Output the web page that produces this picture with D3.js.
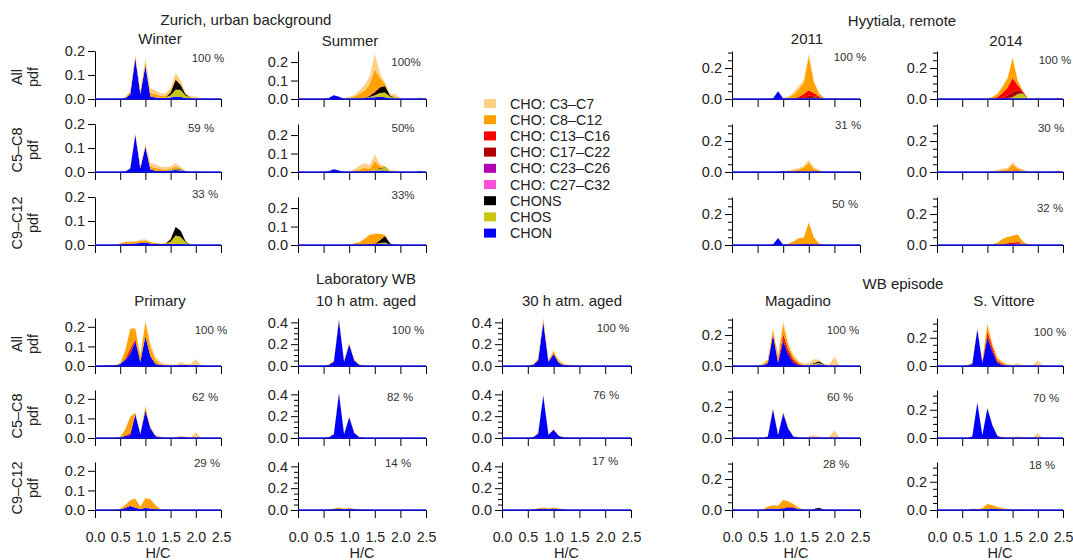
<!DOCTYPE html>
<html><head><meta charset="utf-8">
<script src="https://cdn.jsdelivr.net/npm/d3@7"></script>
<style>
body{margin:0;background:#fff}
svg{display:block}
text{font-family:"Liberation Sans",Arial,Helvetica,sans-serif;fill:#222}
</style>
</head><body>
<svg id="c" width="1073" height="560"></svg>
<script>
// ---------- data ----------
const hcBins = [0.0,0.1,0.2,0.3,0.4,0.5,0.6,0.7,0.8,0.9,1.0,1.1,1.2,1.3,1.4,1.5,1.6,1.7,1.8,1.9,2.0,2.1,2.2,2.3,2.4,2.5];
const seriesKeys = ["chon","chos","chons","c27","c23","c17","c13","c8","c3"]; // stack order, bottom -> top
const legendKeys = ["c3","c8","c13","c17","c23","c27","chons","chos","chon"];
const legendLabels = ["CHO: C3–C7","CHO: C8–C12","CHO: C13–C16","CHO: C17–C22","CHO: C23–C26","CHO: C27–C32","CHONS","CHOS","CHON"];
const xTicks = [0,0.5,1.0,1.5,2.0,2.5];
const rowNames = ["All","C5–C8","C9–C12"];

// each series: [first H/C bin, values at consecutive 0.1 H/C steps]
const winterAll = {
  chon:[0.6,[.003,.02,.17,.02,.14,.01,.006,.004,.004,.006,.01,.008,.004,.002,.001]],
  chos:[1.4,[.002,.01,.03,.03,.01,.005,.002]],
  chons:[1.5,[.01,.04,.02,.005]],
  c8:[0.6,[.004,.01,.008,.012,.01,.015,.015,.01,.008,.01,.008,.005]],
  c3:[0.7,[.004,.005,.008,.02,.02,.015,.01,.01,.01,.02,.015,.005,.004,.008,.002]]
};
const winterC5C8 = {
  chon:[0.6,[.002,.015,.155,.015,.105,.01,.005,.004,.004,.006,.008,.006,.003]],
  chos:[1.5,[.002,.004,.003]],
  chons:[1.6,[.003,.002]],
  c8:[0.7,[.003,.003,.005,.005,.012,.012,.008,.006,.006,.008,.004]],
  c3:[0.8,[.002,.005,.008,.015,.015,.01,.01,.01,.015,.006,.003,0,.006]]
};
const winterC9C12 = {
  chon:[0.5,[.002,.005,.005,.006,.008,.01,.006,.004,.003,.003,.004,.005,.004,.002]],
  chos:[1.4,[.002,.01,.035,.03,.008,.002]],
  chons:[1.5,[.01,.035,.025,.004]],
  c8:[0.5,[.004,.008,.008,.008,.01,.01,.006,.004,.002,.002,.003]],
  c3:[0.6,[.002,.002,.002,.004,.004,.003]]
};
const summerAll = {
  chon:[0.6,[.005,.02,.012,.002,.002,.002,.003,.004,.008,.01,.012,.01,.004,.002]],
  chos:[1.4,[.003,.01,.02,.025,.008,.005,.002,0,0,.003,.008,.002]],
  chons:[1.4,[.005,.015,.03,.035,.005]],
  c13:[1.3,[.002,.004,.005,.003]],
  c8:[1.0,[.005,.01,.025,.04,.06,.12,.05,.01,.005,.005]],
  c3:[0.9,[.002,.005,.01,.02,.03,.04,.085,.025,.01,.005,.015,.003]]
};
const summerC5C8 = {
  chon:[0.6,[.004,.015,.008,0,0,0,.002,.003,.004,.005,.008,.008,.002]],
  chos:[1.5,[.005,.01,.015,.004,0,0,0,0,0,.008]],
  chons:[1.6,[.003,.003]],
  c8:[1.1,[.005,.012,.02,.012,.05,.01,.003]],
  c3:[1.0,[.003,.01,.02,.025,.02,.035,.012,.005,.004,.01]]
};
const summerC9C12 = {
  chon:[1.3,[.002,.004,.005,.006,.004]],
  chos:[1.6,[.005,.01,.003]],
  chons:[1.6,[.015,.035,.005]],
  c8:[1.0,[.003,.008,.015,.03,.05,.055,.035,.005]],
  c3:[1.2,[.002,.004,.005,.004]]
};
const hyy2011All = {
  chon:[0.8,[.003,.05,.003,.001,0,0,0,.002]],
  chos:[1.5,[.002,.004,.005,.002,0,.008]],
  chons:[1.5,[.003,.004,.002]],
  c17:[1.3,[.003,.008,.015,.01,.004]],
  c13:[1.2,[.003,.01,.025,.035,.02,.005]],
  c8:[1.0,[.004,.01,.025,.05,.07,.22,.07,.02,.005]],
  c3:[1.1,[.004,.015,.02,.02,.015,.01,.003]]
};
const hyy2011C5C8 = {
  chon:[1.0,[.002,0,0,0,0,.002]],
  chos:[1.6,[.004,.008,.002,0,.004]],
  chons:[1.0,[.003,.002]],
  c8:[1.1,[.005,.01,.015,.03,.06,.015,.004]],
  c3:[1.1,[.003,.008,.01,.01,.015,.01,.003]]
};
const hyy2011C9C12 = {
  chon:[0.8,[.003,.045,.002]],
  chons:[1.2,[.002,.003,.002]],
  c13:[1.4,[.004,.006,.003]],
  c8:[1.0,[.003,.008,.02,.04,.04,.14,.045,.01,.002]],
  c3:[1.2,[.003,.003,.004]]
};
const hyy2014All = {
  chon:[1.5,[.002]],
  chos:[1.4,[.003,.01,.03,.035,.005,0,.01,0,0,0,.01]],
  chons:[1.5,[.003,.004,.002]],
  c17:[1.2,[.003,.008,.02,.03,.025,.008]],
  c13:[1.1,[.003,.01,.03,.05,.09,.03,.005]],
  c8:[1.0,[.004,.01,.02,.04,.06,.13,.03,.005]],
  c3:[1.1,[.003,.005,.008,.008,.005]]
};
const hyy2014C5C8 = {
  chos:[1.5,[.005,.01,.012,.003,0,.006,0,0,0,.01]],
  c13:[1.4,[.003,.005,.003]],
  c8:[1.1,[.004,.008,.012,.015,.04,.012,.003]],
  c3:[1.1,[.003,.006,.01,.008,.015,.005,.002,0,0,.003]]
};
const hyy2014C9C12 = {
  chos:[1.6,[.005,.012,.005]],
  c17:[1.4,[.003,.005,.005]],
  c13:[1.3,[.003,.008,.01,.01,.003]],
  c8:[1.1,[.005,.015,.035,.04,.045,.05,.01]],
  c3:[1.2,[.002,.003,.004]]
};
const primaryAll = {
  chon:[0.2,[.002,.004,.003,.01,.03,.06,.125,.02,.15,.05,.01,.005,.003,.003,.003,.005,.005,.003,.005,.002]],
  chons:[0.7,[.003,.003,0,.003]],
  c17:[0.6,[.003,.01,.005]],
  c13:[0.6,[.005,.015,.008]],
  c8:[0.5,[.005,.04,.1,.05,.03,.07,.05,.02,.005]],
  c3:[0.6,[.005,.005,.004,.005,.01,.015,.02,.01,.008,.005,.005,.015,.005,.008,.03,.005]]
};
const primaryC5C8 = {
  chon:[0.5,[.003,.01,.015,.12,.02,.14,.05,.01,.003,0,0,0,.005,.004]],
  c13:[0.6,[.003,.008,.003]],
  c8:[0.5,[.003,.03,.085,.005,.005,.02,.005]],
  c3:[0.7,[.003,0,.003,.005,.005,.008,.005,.004,.003,.005,.008,.003,.005,.03,.003]]
};
const primaryC9C12 = {
  chon:[0.5,[.003,.01,.02,.012,.005,.01,.008,.004]],
  c8:[0.5,[.003,.015,.03,.045,.01,.05,.045,.02,.003]],
  c3:[0.8,[.003,0,.004,.004,.003]]
};
const aged10All = {
  chon:[0.5,[.002,.01,.04,.42,.04,.2,.05,.01,.003]],
  c8:[0.6,[.004,.01,.01,.01,.01,.008,.003]],
  c3:[0.7,[.002,.005,.003,.005,.005,.004,.003,.002,.002]]
};
const aged10C5C8 = {
  chon:[0.6,[.008,.035,.41,.035,.19,.045,.008]],
  c8:[0.7,[.006,.004,.004,.004,.003]],
  c3:[0.8,[.003,0,.003,.003]]
};
const aged10C9C12 = {
  chon:[0.6,[.003,.008,.01,.006,.01,.006,.003]],
  c8:[0.7,[.005,.012,.005,.008,.006,.003]],
  c3:[0.8,[.003,0,.002]]
};
const aged30All = {
  chon:[0.5,[.002,.01,.05,.4,.04,.11,.03,.008,.004,.002]],
  c8:[0.6,[.005,.015,.03,.01,.025,.015,.005]],
  c3:[0.6,[.003,.005,.015,.008,.015,.015,.012,.01,.008,.008,.005,.002]]
};
const aged30C5C8 = {
  chon:[0.6,[.008,.04,.39,.03,.075,.02,.005]],
  c8:[0.7,[.008,.005,.004,.005]],
  c3:[0.7,[.003,.005,0,.005,.005,.004,.003,.003,.003,.004]]
};
const aged30C9C12 = {
  chon:[0.6,[.003,.01,.012,.008,.012,.008,.004]],
  c8:[0.7,[.005,.01,.005,.01,.005,.002]],
  c3:[0.8,[.003,0,.004,.002]]
};
const magadinoAll = {
  chon:[0.6,[.003,.02,.2,.02,.16,.07,.02,.005,.003,.003,.005,.012,.004]],
  chos:[1.5,[.003,.01,.008,.003]],
  chons:[1.6,[.005,.01,.003]],
  c17:[0.9,[.005,.015,.015,.01,.005]],
  c13:[0.8,[.005,.008,.03,.02,.012,.005]],
  c8:[0.5,[.003,.008,.02,.03,.03,.07,.03,.02,.01,.005]],
  c3:[0.7,[.003,.005,.005,.015,.01,.01,.008,.008,.015,.025,.01,.005,.008,.06,.005]]
};
const magadinoC5C8 = {
  chon:[0.7,[.01,.185,.02,.16,.06,.01,.003]],
  c8:[0.7,[.003,.005,.003,.008,.005]],
  c3:[1.0,[.003,.003,.005,.003,.003,.01,.02,.01,.003,.01,.05,.005]]
};
const magadinoC9C12 = {
  chon:[0.7,[.008,.01,.005,.01,.015,.015,.005,0,0,.003,.005]],
  chons:[1.6,[.004,.01,.002]],
  c13:[0.9,[.003,.005,.005,.003]],
  c8:[0.6,[.004,.015,.02,.02,.05,.035,.02,.01,.003]],
  c3:[1.0,[.003,.003,.003]]
};
const vittoreAll = {
  chon:[0.6,[.003,.015,.26,.02,.2,.1,.02,.005,.002]],
  c17:[0.9,[.004,.012,.012,.008,.004]],
  c13:[0.9,[.005,.03,.02,.01,.005]],
  c8:[0.6,[.003,.008,.008,.01,.05,.02,.015,.01,.005]],
  c3:[0.7,[.002,.003,.003,.01,.01,.01,.008,.008,.008,.02,.008,.004,.005,.04,.004]]
};
const vittoreC5C8 = {
  chon:[0.7,[.01,.25,.02,.21,.09,.015,.003]],
  c8:[0.8,[.003,0,.005,.004]],
  c3:[1.1,[.003,.005,.005,.005,.008,.015,.005,.003,.005,.035,.003]]
};
const vittoreC9C12 = {
  chon:[0.7,[.005,.003,.003,.005,.01,.006,.003]],
  c13:[1.0,[.003,.003]],
  c8:[0.7,[.003,.004,.01,.035,.02,.015,.01,.006,.004,.004,.002]],
  c3:[1.0,[.002,0,.003,.003,.002]]
};

const winterPct = ["100 %","59 %","33 %"];
const summerPct = ["100%","50%","33%"];
const hyy2011Pct = ["100 %","31 %","50 %"];
const hyy2014Pct = ["100 %","30 %","32 %"];
const primaryPct = ["100 %","62 %","29 %"];
const aged10Pct = ["100 %","82 %","14 %"];
const aged30Pct = ["100 %","76 %","17 %"];
const magadinoPct = ["100 %","60 %","28 %"];
const vittorePct = ["100 %","70 %","18 %"];

// ---------- styles / layout ----------
const seriesColors = {c3:"#FFCF86",c8:"#FFA200",c13:"#FF0000",c17:"#B00000",c23:"#B000B0",c27:"#FF4FD8",chons:"#000000",chos:"#C8C814",chon:"#0000FF"};
const topRows = [[51,99],[124,172],[197,245]];
const botRows = [[318,366],[390,438],[462,510]];
const minor31 = [0.05,0.1,0.15,0.25,0.3];

const columns = [
 {data:[winterAll,winterC5C8,winterC9C12],pct:winterPct,x0:95,x1:221,rows:topRows,ymax:0.2,major:[0,0.1,0.2],minor:[],rowLab:true,xLab:false,pctPos:[[208,58],[201,128],[205,194]]},
 {data:[summerAll,summerC5C8,summerC9C12],pct:summerPct,x0:298,x1:426,rows:topRows,ymax:0.26,major:[0,0.1,0.2],minor:[],rowLab:false,xLab:false,pctPos:[[406,62],[403,128],[403,195]]},
 {data:[hyy2011All,hyy2011C5C8,hyy2011C9C12],pct:hyy2011Pct,x0:732,x1:860,rows:topRows,ymax:0.31,major:[0,0.2],minor:minor31,rowLab:false,xLab:false,pctPos:[[850,57],[848,125],[845,204]]},
 {data:[hyy2014All,hyy2014C5C8,hyy2014C9C12],pct:hyy2014Pct,x0:937,x1:1063,rows:topRows,ymax:0.31,major:[0,0.2],minor:minor31,rowLab:false,xLab:false,pctPos:[[1055,60],[1051,128],[1050,208]]},
 {data:[primaryAll,primaryC5C8,primaryC9C12],pct:primaryPct,x0:95,x1:221,rows:botRows,ymax:0.245,major:[0,0.1,0.2],minor:[],rowLab:true,xLab:true,pctPos:[[211,330],[205,397],[207,463]]},
 {data:[aged10All,aged10C5C8,aged10C9C12],pct:aged10Pct,x0:298,x1:426,rows:botRows,ymax:0.44,major:[0,0.2,0.4],minor:[0.05,0.1,0.15,0.25,0.3,0.35],rowLab:false,xLab:true,pctPos:[[408,330],[400,397],[398,463]]},
 {data:[aged30All,aged30C5C8,aged30C9C12],pct:aged30Pct,x0:502,x1:631,rows:botRows,ymax:0.44,major:[0,0.2,0.4],minor:[0.05,0.1,0.15,0.25,0.3,0.35],rowLab:false,xLab:true,pctPos:[[613,328],[606,395],[605,461]]},
 {data:[magadinoAll,magadinoC5C8,magadinoC9C12],pct:magadinoPct,x0:732,x1:860,rows:botRows,ymax:0.31,major:[0,0.2],minor:minor31,rowLab:false,xLab:true,pctPos:[[843,330],[840,397],[836,464]]},
 {data:[vittoreAll,vittoreC5C8,vittoreC9C12],pct:vittorePct,x0:937,x1:1063,rows:botRows,ymax:0.34,major:[0,0.2],minor:minor31,rowLab:false,xLab:true,pctPos:[[1050,332],[1046,398],[1042,465]]}
];

const titles = [
 ["Zurich, urban background",246,19],["Winter",160,38],["Summer",350,40],
 ["Hyytiala, remote",902,20],["2011",807,38],["2014",1006,40],
 ["Laboratory WB",366,278],["Primary",160,300],["10 h atm. aged",366,300],["30 h atm. aged",572,300],
 ["WB episode",903,283],["Magadino",798,300],["S. Vittore",1004,300]
];

// ---------- drawing ----------
const svg = d3.select("#c");
function toGrid(panel){
  const rows = hcBins.map(hc => { const o = {hc}; seriesKeys.forEach(k => o[k] = 0); return o; });
  Object.entries(panel).forEach(([k,[start,vals]]) => {
    const i0 = Math.round(start*10);
    vals.forEach((v,j) => { rows[i0+j][k] = v; });
  });
  return rows;
}
const stack = d3.stack().keys(seriesKeys);
const fmt = d3.format(".1f");

columns.forEach(col => {
  col.rows.forEach(([top,zero], r) => {
    const g = svg.append("g");
    const x = d3.scaleLinear().domain([0,2.5]).range([col.x0,col.x1]);
    const y = d3.scaleLinear().domain([0,col.ymax]).range([zero,top]);
    const layers = stack(toGrid(col.data[r]));
    const area = d3.area().x(d => x(d.data.hc)).y0(d => y(d[0])).y1(d => y(d[1]));
    g.selectAll("path.layer").data(layers).join("path")
      .attr("class","layer").attr("d",area)
      .attr("fill",d => seriesColors[d.key]).attr("stroke","none");

    // y axis
    const ya = g.append("g").attr("transform",`translate(${col.x0},0)`)
      .call(d3.axisLeft(y).tickValues(col.major).tickSize(7).tickSizeOuter(0).tickPadding(3).tickFormat(fmt));
    ya.selectAll("text").attr("font-size",14.5);
    ya.attr("font-family",null);
    if (col.minor.length){
      const ym = g.append("g").attr("transform",`translate(${col.x0},0)`)
        .call(d3.axisLeft(y).tickValues(col.minor).tickSize(4).tickFormat(""));
      ym.select(".domain").remove();
    }
    // x axis
    const showLab = col.xLab && r === 2;
    const xa = g.append("g").attr("transform",`translate(0,${zero})`)
      .call(d3.axisBottom(x).tickValues(xTicks).tickSize(8).tickSizeOuter(0).tickPadding(14).tickFormat(showLab ? fmt : ""));
    xa.selectAll("text").attr("font-size",14.2);
    xa.attr("font-family",null);
    // blue zero line
    g.append("line").attr("x1",col.x0).attr("x2",col.x1).attr("y1",zero).attr("y2",zero)
      .attr("stroke","#1515ee").attr("stroke-width",1.3);

    // percent label
    g.append("text").attr("x",col.pctPos[r][0]).attr("y",col.pctPos[r][1])
      .attr("text-anchor","middle").attr("dominant-baseline","central")
      .attr("font-size",11.5).style("fill","#333").text(col.pct[r]);

    if (col.rowLab){
      const cy = (top+zero)/2 + 2;
      g.append("text").attr("transform",`translate(17,${cy}) rotate(-90)`)
        .attr("text-anchor","middle").attr("dominant-baseline","central")
        .attr("font-size",14.5).text(rowNames[r]);
      g.append("text").attr("transform",`translate(33,${cy}) rotate(-90)`)
        .attr("text-anchor","middle").attr("dominant-baseline","central")
        .attr("font-size",14.5).text("pdf");
    }
    if (showLab){
      g.append("text").attr("x",(col.x0+col.x1)/2).attr("y",553)
        .attr("text-anchor","middle").attr("dominant-baseline","central")
        .attr("font-size",14.5).text("H/C");
    }
  });
});

titles.forEach(([t,tx,ty]) => {
  svg.append("text").attr("x",tx).attr("y",ty).attr("text-anchor","middle")
    .attr("dominant-baseline","central").attr("font-size",15).text(t);
});

// legend
const lg = svg.append("g");
legendKeys.forEach((k,i) => {
  const cy = 103.5 + i*16.2;
  lg.append("rect").attr("x",484).attr("y",cy-4.5).attr("width",12).attr("height",9).attr("fill",seriesColors[k]);
  lg.append("text").attr("x",510).attr("y",cy).attr("dominant-baseline","central")
    .attr("font-size",14.3).text(legendLabels[i]);
});
</script>
</body></html>
